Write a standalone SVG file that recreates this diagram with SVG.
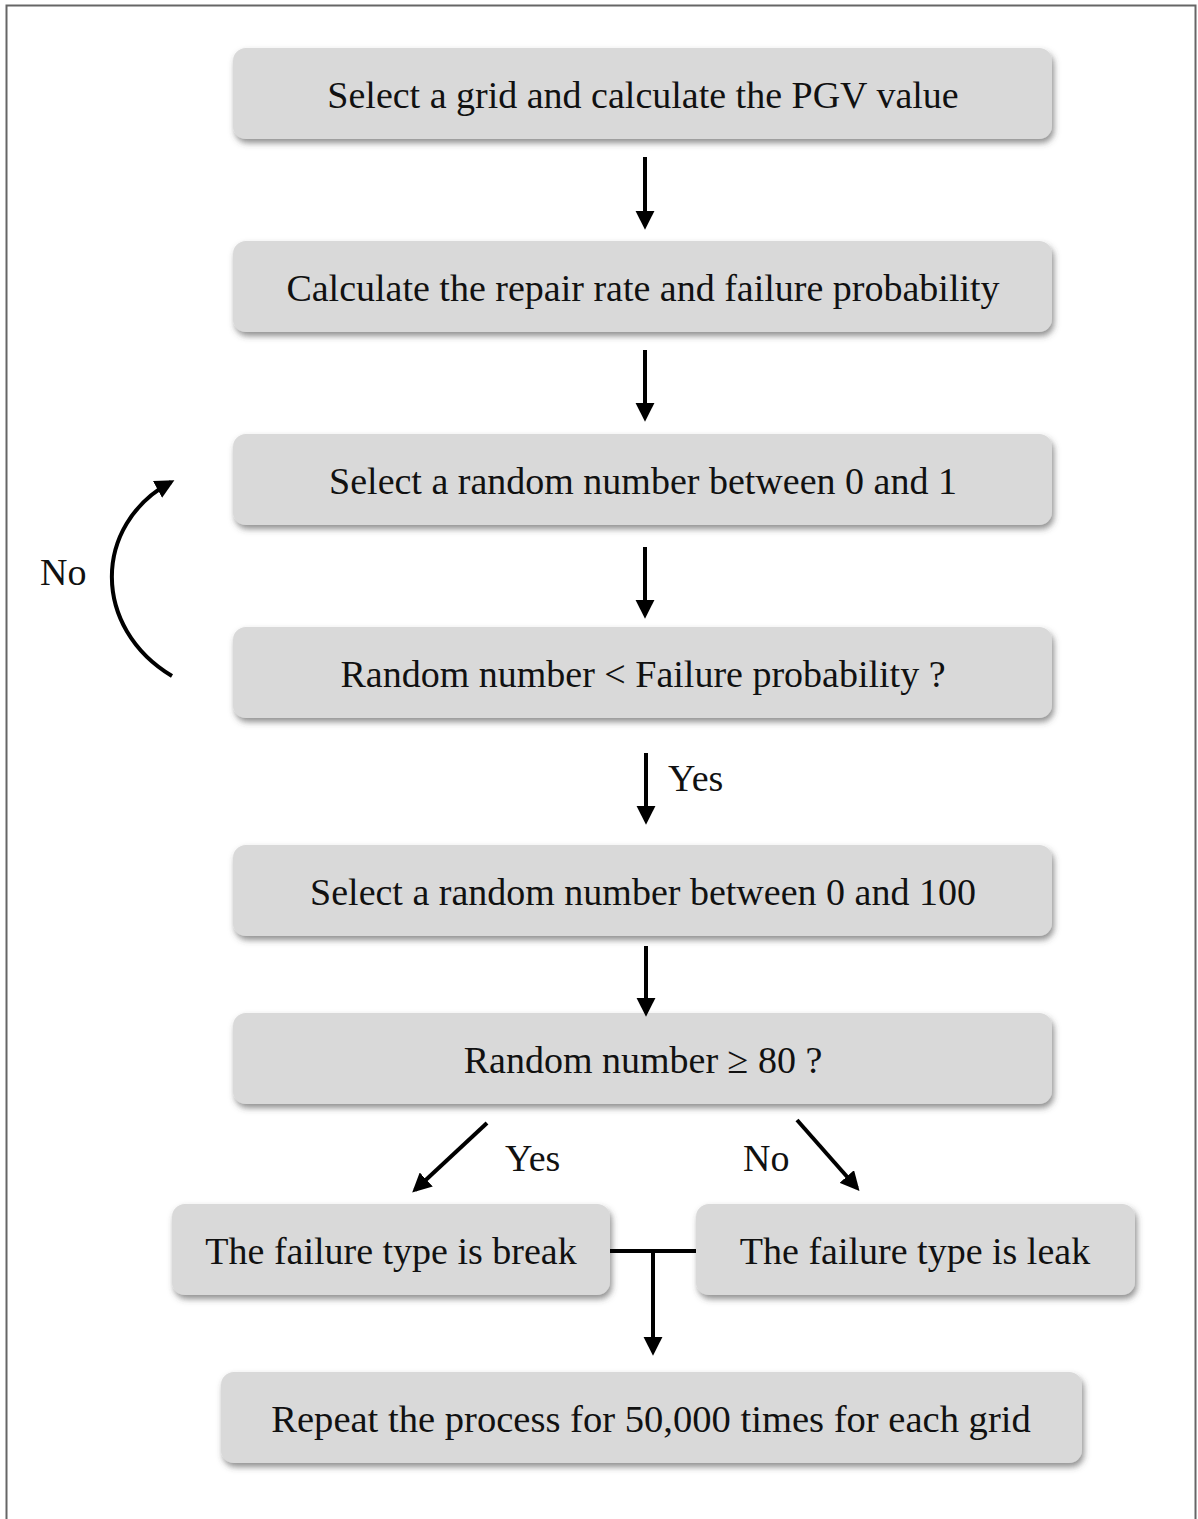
<svg xmlns="http://www.w3.org/2000/svg" width="1198" height="1519" viewBox="0 0 1198 1519">
<style>
.box{fill:#d9d9d9;filter:url(#sh)}
.t{font-family:"Liberation Serif","Times New Roman",serif;font-size:38px;fill:#111;text-anchor:middle}
.l{font-family:"Liberation Serif","Times New Roman",serif;font-size:38px;fill:#111}
.c{stroke:#000;stroke-width:4;fill:none}
</style>
<defs>
<filter id="sh" x="-5%" y="-20%" width="110%" height="150%">
<feDropShadow dx="2" dy="4" stdDeviation="3" flood-color="#444" flood-opacity="0.6"/>
</filter>
<marker id="ah" viewBox="0 0 10 10" refX="8" refY="5" markerWidth="4.8" markerHeight="4.8" orient="auto" markerUnits="strokeWidth">
<path d="M0,0 L10,5 L0,10 z" fill="#000"/>
</marker>
</defs>
<rect x="0" y="0" width="1198" height="1519" fill="#fff"/>
<rect x="6.5" y="5.5" width="1189" height="1520" fill="none" stroke="#666" stroke-width="2"/>

<g id="n1"><rect class="box" x="233" y="48" width="819" height="91" rx="13"/><text class="t" x="643" y="108">Select a grid and calculate the PGV value</text></g>
<g id="n2"><rect class="box" x="233" y="241" width="819" height="91" rx="13"/><text class="t" x="643" y="301">Calculate the repair rate and failure probability</text></g>
<g id="n3"><rect class="box" x="233" y="434" width="819" height="91" rx="13"/><text class="t" x="643" y="494">Select a random number between 0 and 1</text></g>
<g id="n4"><rect class="box" x="233" y="627" width="819" height="91" rx="13"/><text class="t" x="643" y="687">Random number &lt; Failure probability ?</text></g>
<g id="n5"><rect class="box" x="233" y="845" width="819" height="91" rx="13"/><text class="t" x="643" y="905">Select a random number between 0 and 100</text></g>
<g id="n6"><rect class="box" x="233" y="1013" width="819" height="91" rx="13"/><text class="t" x="643" y="1073">Random number ≥ 80 ?</text></g>
<g id="n7"><rect class="box" x="172" y="1204" width="438" height="91" rx="13"/><text class="t" x="391" y="1264">The failure type is break</text></g>
<g id="n8"><rect class="box" x="696" y="1204" width="439" height="91" rx="13"/><text class="t" x="915" y="1264">The failure type is leak</text></g>
<g id="n9"><rect class="box" x="221" y="1372" width="861" height="91" rx="13"/><text class="t" x="651" y="1432" style="font-size:38.6px">Repeat the process for 50,000 times for each grid</text></g>

<g id="connectors">
<line class="c" x1="645" y1="157" x2="645" y2="226" marker-end="url(#ah)"/>
<line class="c" x1="645" y1="350" x2="645" y2="418" marker-end="url(#ah)"/>
<line class="c" x1="645" y1="547" x2="645" y2="615" marker-end="url(#ah)"/>
<line class="c" x1="646" y1="753" x2="646" y2="821" marker-end="url(#ah)"/>
<line class="c" x1="646" y1="946" x2="646" y2="1013" marker-end="url(#ah)"/>
<line class="c" x1="487" y1="1123" x2="415" y2="1190" marker-end="url(#ah)"/>
<line class="c" x1="797" y1="1120" x2="857" y2="1188" marker-end="url(#ah)"/>
<line class="c" x1="610" y1="1251" x2="696" y2="1251"/>
<line class="c" x1="653" y1="1251" x2="653" y2="1352" marker-end="url(#ah)"/>
<path class="c" d="M172,676 C92,628 92,525 171,482" marker-end="url(#ah)"/>
</g>
<g id="labels">
<text class="l" x="40" y="585">No</text>
<text class="l" x="668" y="791">Yes</text>
<text class="l" x="505" y="1171">Yes</text>
<text class="l" x="743" y="1171">No</text>
</g>
</svg>
